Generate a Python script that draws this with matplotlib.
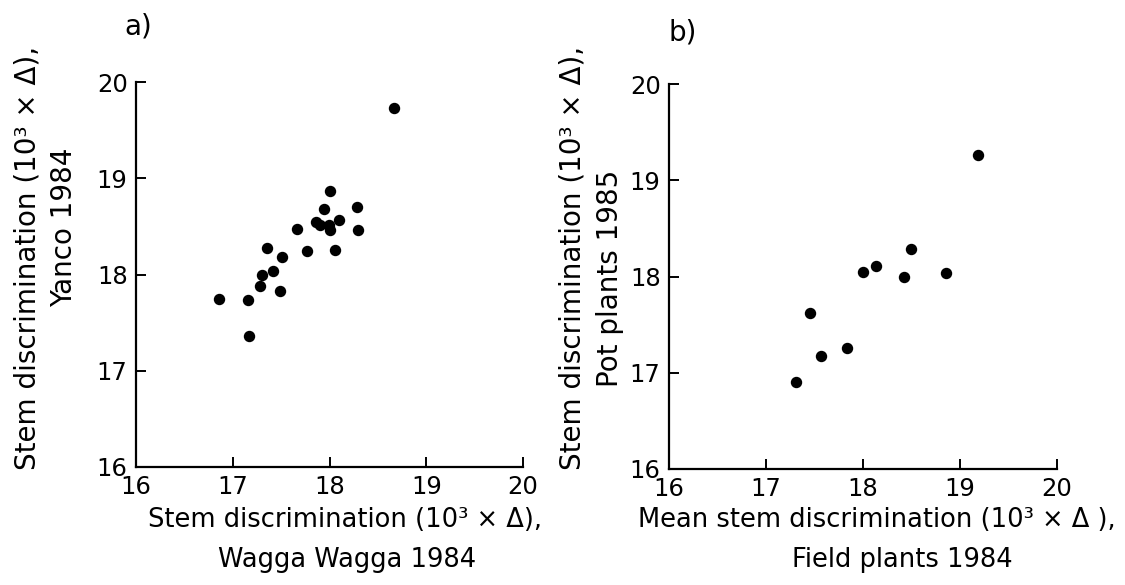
import matplotlib
matplotlib.use("Agg")
import matplotlib.pyplot as plt

plt.rcParams['font.family'] = ['DejaVu Sans']

# panel a: Wagga Wagga 1984 (x) vs Yanco 1984 (y)
wagga = [18.67, 18.01, 17.94, 18.28, 17.86, 17.90, 17.99, 18.01, 18.10, 18.29,
         17.66, 17.77, 18.06, 17.35, 17.51, 17.42, 17.30, 17.28, 17.49, 16.86,
         17.16, 17.17]
yanco = [19.73, 18.87, 18.68, 18.70, 18.55, 18.51, 18.51, 18.46, 18.57, 18.46,
         18.47, 18.24, 18.25, 18.28, 18.18, 18.04, 17.99, 17.88, 17.83, 17.75,
         17.74, 17.36]

# panel b: field plants 1984 (x) vs pot plants 1985 (y)
field = [19.19, 18.49, 18.13, 18.00, 18.42, 18.86, 17.45, 17.84, 17.57, 17.31]
pot = [19.26, 18.29, 18.11, 18.05, 17.99, 18.04, 17.62, 17.26, 17.17, 16.90]

ticks = [16, 17, 18, 19, 20]

W, H = 1125, 585
fig = plt.figure(figsize=(W / 100, H / 100), dpi=100)


def px(x, y):
    return x / W, 1 - y / H


def make_axes(left, top, right, bottom):
    l, t = px(left, top)
    r, b = px(right, bottom)
    ax = fig.add_axes([l, b, r - l, t - b])
    ax.set_xlim(16, 20)
    ax.set_ylim(16, 20)
    ax.set_xticks(ticks)
    ax.set_yticks(ticks)
    ax.spines['top'].set_visible(False)
    ax.spines['right'].set_visible(False)
    for s in ('left', 'bottom'):
        ax.spines[s].set_linewidth(1.6)
    ax.tick_params(direction='in', length=7, width=1.4, labelsize=17.5, pad=6)
    return ax


ax1 = make_axes(136, 82, 523, 467)
ax1.plot(wagga, yanco, 'o', color='black', markersize=7.2, clip_on=False)

ax2 = make_axes(669, 84, 1057, 469)
ax2.plot(field, pot, 'o', color='black', markersize=7.2, clip_on=False)

# panel letters
fig.text(*px(138, 27), 'a)', fontsize=20, ha='center', va='center')
fig.text(*px(683, 32), 'b)', fontsize=20, ha='center', va='center')

# x labels
fig.text(*px(345, 520), 'Stem discrimination (10³ × Δ),', fontsize=18.5,
         ha='center', va='center')
fig.text(*px(347, 560), 'Wagga Wagga 1984', fontsize=18.5,
         ha='center', va='center')
fig.text(*px(877, 520), 'Mean stem discrimination (10³ × Δ ),', fontsize=18.5,
         ha='center', va='center')
fig.text(*px(902, 560), 'Field plants 1984', fontsize=18.5,
         ha='center', va='center')

# y labels
fig.text(*px(28, 258), 'Stem discrimination (10³ × Δ),', fontsize=20,
         ha='center', va='center', rotation=90)
fig.text(*px(64, 227), 'Yanco 1984', fontsize=20,
         ha='center', va='center', rotation=90)
fig.text(*px(573, 258), 'Stem discrimination (10³ × Δ),', fontsize=20,
         ha='center', va='center', rotation=90)
fig.text(*px(610, 278), 'Pot plants 1985', fontsize=20,
         ha='center', va='center', rotation=90)

fig.savefig('out.png', dpi=100)
